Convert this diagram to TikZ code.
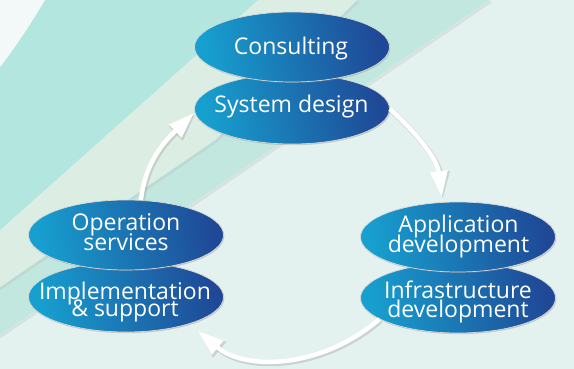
\documentclass[tikz,border=0pt]{standalone}
\usepackage{fontspec}
\setmainfont{Open Sans}
\usetikzlibrary{arrows.meta,shapes.geometric,shadows}
\definecolor{bgbase}{HTML}{E4F2EF}
\definecolor{tealA}{HTML}{B3E6DE}
\definecolor{tealB}{HTML}{C2E7DF}
\definecolor{stripe}{HTML}{DCEEE4}
\definecolor{corner}{HTML}{F3F9F9}
\definecolor{ecyan}{HTML}{17A0CF}
\definecolor{emid}{HTML}{1467B5}
\definecolor{edark}{HTML}{1F4896}
\newcommand\lblfont[1]{\fontsize{23}{#1}\selectfont\lineskiplimit=-100pt\lineskip=0pt\relax}
\begin{document}
\begin{tikzpicture}[x=1pt,y=-1pt,
  bubble/.style={ellipse, minimum width=195pt, minimum height=70pt, inner sep=0pt,
    draw=white!85!black, line width=0.7pt,
    left color=ecyan, middle color=emid, right color=edark, shading angle=100,
    drop shadow={shadow xshift=0.8pt, shadow yshift=-1.2pt, opacity=0.35}},
  lbl/.style={text=white, align=center, inner sep=0pt, font=\lblfont{20}},
  flow/.style={draw=white, line width=4.5pt, -{Triangle[length=26pt,width=17pt]}},
  flowshadow/.style={draw=black!45, opacity=0.3, line width=5.5pt,
    -{Triangle[length=27pt,width=19pt]}, transform canvas={shift={(1.2pt,-1.5pt)}}},
  bandshadow/.style={draw=black!30, line width=2.5pt, opacity=0.25}
]
\useasboundingbox (0,0) rectangle (574,369);
% background
\fill[bgbase] (0,0) rectangle (574,369);
\fill[tealB] (0,0) -- (490,0) -- (0,335) -- cycle;
\draw[bandshadow] (491,1.5) -- (0,337);
\fill[stripe] (0,0) -- (357,0) -- (215,140) -- (0,287) -- cycle;
\draw[bandshadow] (358,1.5) -- (216,141.5) -- (0,289);
\fill[tealA] (0,0) -- (258,0) -- (0,230) -- cycle;
\fill[corner] (0,0) -- (45,0) .. controls (30,25) and (15,48) .. (0,67) -- cycle;

% lower ellipses
\node[bubble] (sd) at (292,109) {};
\node[bubble] (impl) at (126,297) {};
\node[bubble] (inf) at (458,298) {};
% upper ellipses
\node[bubble] (cons) at (292,47) {};
\node[bubble] (op) at (126,235) {};
\node[bubble] (app) at (458,237) {};

% connectors (shadow then arrow)
\draw[flowshadow, shorten >=5pt] (sd.east) to[out=-42,in=97] (app.114);
\draw[flowshadow, shorten >=11pt] (inf.195) to[out=-139,in=-40] (impl.-23);
\draw[flowshadow, shorten >=1pt] (op.67) to[out=83,in=-136] (sd.182);
\draw[flow, shorten >=5pt] (sd.east) to[out=-42,in=97] (app.114);
\draw[flow, shorten >=11pt] (inf.195) to[out=-139,in=-40] (impl.-23);
\draw[flow, shorten >=1pt] (op.67) to[out=83,in=-136] (sd.182);

% labels
\node[lbl, anchor=base] (tcons) at (291,55) {Consulting};
\node[lbl, anchor=base] (tsd) at (291.5,113) {System design};
\node[lbl] (top) at (126,232.5) {Operation\\services};
\node[lbl, font=\lblfont{17}] (timpl) at (125,302.5) {Implementation\\\&~support};
\node[lbl] (tapp) at (458.5,237) {Application\\development};
\node[lbl, font=\lblfont{19}] (tinf) at (458,301.5) {Infrastructure\\development};
\end{tikzpicture}
\end{document}
